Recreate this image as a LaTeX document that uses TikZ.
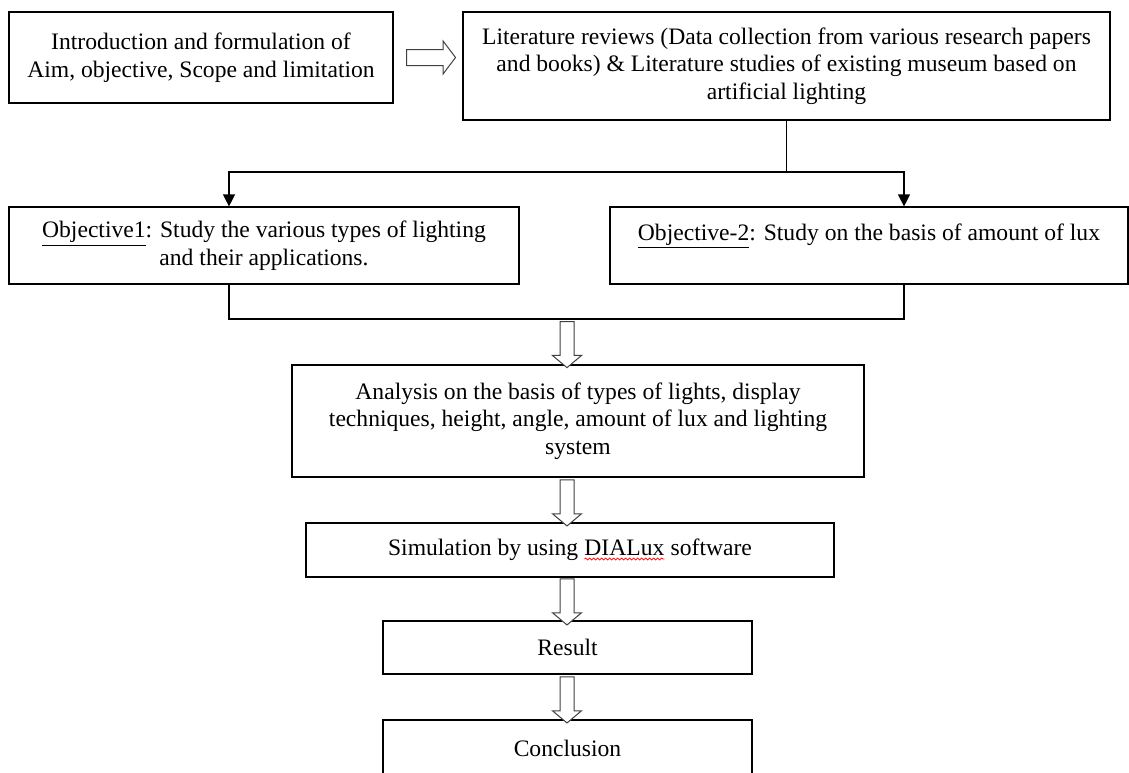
\documentclass[tikz,border=0pt]{standalone}
\usepackage{fontspec}
\setmainfont{Liberation Serif}
\usetikzlibrary{shapes.arrows,arrows.meta,decorations.pathmorphing}

\newcommand{\spellwave}[1]{\tikz[baseline=(w.base)]{\node[draw=none, inner sep=0pt, outer sep=0pt, minimum width=0pt, minimum height=0pt] (w) {#1}; \draw[red, line width=0.35pt, decorate, decoration={snake, amplitude=0.5pt, segment length=2pt}] ([yshift=-1.5pt]w.south west) -- ([yshift=-1.5pt]w.south east);}}

\begin{document}
\begin{tikzpicture}[x=0.5pt,y=-0.5pt,
	box/.style={draw, line width=0.6pt, align=center, inner sep=0pt, font=\fontsize{11.8}{13.8}\selectfont},
	line/.style={line width=0.6pt},
	tip/.style={{Triangle[length=6pt,width=6pt]}-{Triangle[length=6pt,width=6pt]}},
	fatdown/.style={single arrow, draw=black!75, fill=white, line width=0.5pt, shape border rotate=270, inner sep=3.25pt, minimum height=23pt, minimum width=0pt, single arrow head extend=3.75pt, single arrow tip angle=100},
	fatright/.style={single arrow, draw=black!75, fill=white, line width=0.5pt, inner sep=3.75pt, minimum height=24.5pt, minimum width=0pt, single arrow head extend=4.25pt, single arrow tip angle=106}]
\useasboundingbox (0,0) rectangle (1129,772);
\node [box, minimum width=192pt, minimum height=45.5pt] (intro) at (201,57.5) {Introduction and formulation of\\Aim, objective, Scope and limitation};
\node [box, minimum width=323.5pt, minimum height=54pt] (lit) at (786.5,66) {Literature reviews (Data collection from various research papers\\and books) \& Literature studies of existing museum based on\\artificial lighting};
\node [box, minimum width=255pt, minimum height=38.5pt] (obj1) at (264,245.5) {\underline{Objective1}: Study the various types of lighting\\and their applications.};
\node [box, minimum width=259pt, minimum height=38.5pt] (obj2) at (869,245.5) {\underline{Objective-2}: Study on the basis of amount of lux\\\mbox{}};
\node [box, minimum width=286pt, minimum height=56pt] (ana) at (578,421) {Analysis on the basis of types of lights, display\\techniques, height, angle, amount of lux and lighting\\system};
\node [box, minimum width=264pt, minimum height=27pt] (sim) at (570,550) {Simulation by using \spellwave{DIALux} software};
\node [box, minimum width=184.5pt, minimum height=26.5pt] (res) at (567.5,647.5) {Result};
\node [box, minimum width=184.5pt, minimum height=28pt] (con) at (567.5,748) {Conclusion};

\coordinate (l1) at (229,172);
\coordinate (l2) at (904,172);
\coordinate (m1) at (229,319);
\coordinate (m2) at (904,319);
\coordinate (spine) at (567,0);

\draw [line] (lit.south) -- (lit.south |- l1);
\draw [line, tip] (obj1.north -| l1) |- (l2) -- (obj2.north -| l2);
\draw [line] (obj1.south -| m1) |- (m2) -- (obj2.south -| m2);

\path (intro.east) -- (intro.east -| lit.west) node[midway, fatright] (a0) {};
\path (m1 -| spine) -- (ana.north -| spine) node[midway, fatdown] (a1) {};
\path (ana.south -| spine) -- (sim.north -| spine) node[midway, fatdown] (a2) {};
\path (sim.south -| spine) -- (res.north -| spine) node[midway, fatdown] (a3) {};
\path (res.south -| spine) -- (con.north -| spine) node[midway, fatdown] (a4) {};
\end{tikzpicture}
\end{document}
